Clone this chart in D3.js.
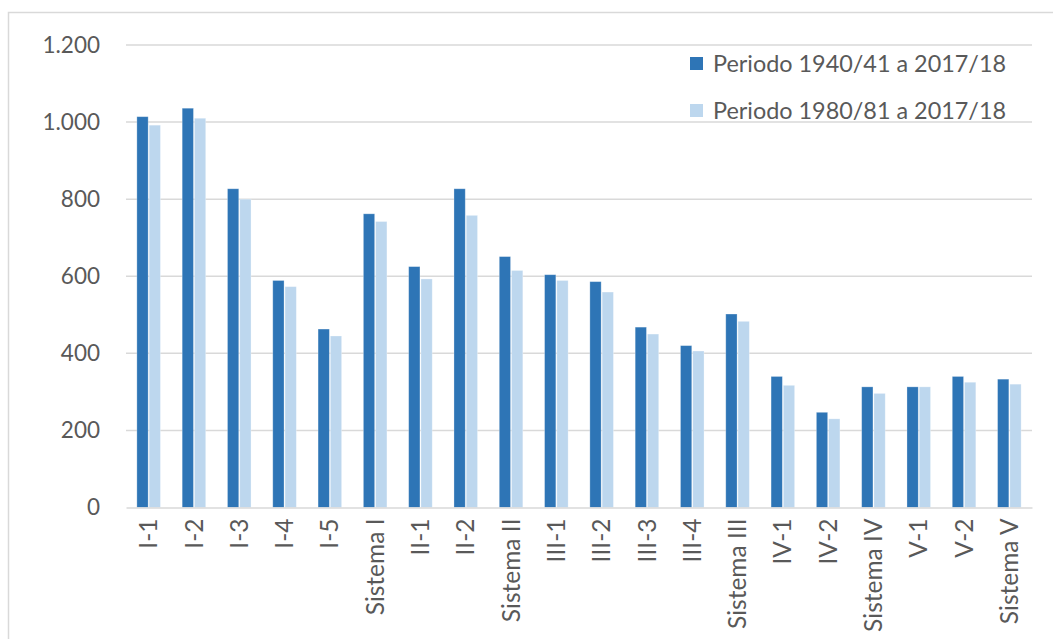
<!DOCTYPE html>
<html><head><meta charset="utf-8">
<script src="https://cdn.jsdelivr.net/npm/d3@7"></script>
<style>
html,body{margin:0;padding:0;background:#fff;overflow:hidden}
text{font-family:Lato,"Open Sans",sans-serif;fill:#595959}
</style></head>
<body>
<svg id="c" width="1053" height="639"></svg>
<script>
const categories = ["I-1","I-2","I-3","I-4","I-5","Sistema I","II-1","II-2","Sistema II","III-1","III-2","III-3","III-4","Sistema III","IV-1","IV-2","Sistema IV","V-1","V-2","Sistema V"];
const seriesNames = ["Periodo 1940/41 a 2017/18","Periodo 1980/81 a 2017/18"];
const period1940 = [1014,1036,827,589,463,762,625,827,651,604,586,468,420,502,340,247,313,313,340,333];
const period1980 = [992,1010,800,573,445,742,593,758,615,589,559,450,406,483,317,230,296,313,325,320];
const yTicks = [0,200,400,600,800,1000,1200];
const colors = ["#2E75B6","#BDD7EE"];

const svg = d3.select("#c");
const mLeft = 126, mRight = 1032, mTop = 45, mBottom = 507.5;

svg.append("rect").attr("x",8.5).attr("y",12.5).attr("width",1060).attr("height",650)
  .attr("fill","none").attr("stroke","#d9d9d9").attr("stroke-width",1.5);

const x0 = d3.scaleBand().domain(categories).range([mLeft,mRight]).paddingInner(0.48).paddingOuter(0.24);
const x1 = d3.scaleBand().domain([0,1]).range([0,x0.bandwidth()]).paddingInner(0.08);
const y = d3.scaleLinear().domain([0,1200]).range([mBottom,mTop]);

const fmt = v => d3.format(",")(v).replace(/,/g,".");

svg.append("g").selectAll("line").data(yTicks.filter(d=>d>0)).join("line")
  .attr("x1",mLeft).attr("x2",mRight).attr("y1",d=>y(d)).attr("y2",d=>y(d))
  .attr("stroke","#d9d9d9").attr("stroke-width",1.5);

const yAxis = svg.append("g").attr("transform",`translate(${mLeft},0)`)
  .call(d3.axisLeft(y).tickValues(yTicks).tickFormat(fmt).tickSize(0).tickPadding(26));
yAxis.select(".domain").remove();
yAxis.selectAll("text").attr("font-size",22.5).style("font-family","Lato,'Open Sans',sans-serif").attr("fill","#595959");

const series = [period1940, period1980];
series.forEach((vals,si)=>{
  svg.append("g").selectAll("rect").data(vals).join("rect")
    .attr("x",(d,i)=>x0(categories[i])+x1(si))
    .attr("width",x1.bandwidth())
    .attr("y",d=>y(d))
    .attr("height",d=>y(0)-y(d))
    .attr("fill",colors[si])
    .attr("stroke","#ffffff").attr("stroke-opacity",0.35).attr("stroke-width",0.8);
});

const xScaleFull = d3.scaleBand().domain(categories).range([mLeft,mRight]);
const xAxis = svg.append("g").attr("transform",`translate(0,${mBottom})`)
  .call(d3.axisBottom(xScaleFull).tickSize(0).tickPadding(0));
xAxis.select(".domain").attr("stroke","#d9d9d9").attr("stroke-width",1.5);
xAxis.selectAll("text")
  .attr("font-size",24.5).style("font-family","Lato,'Open Sans',sans-serif").attr("fill","#595959")
  .attr("transform","rotate(-90)")
  .attr("text-anchor","end").attr("x",-11).attr("y",0).attr("dy","0.35em");

const lg = svg.append("g");
seriesNames.forEach((name,i)=>{
  const yy = 64 + i*47;
  lg.append("rect").attr("x",690).attr("y",yy-7).attr("width",13).attr("height",13).attr("fill",colors[i]);
  lg.append("text").attr("x",713).attr("y",yy).attr("dy","0.35em").attr("font-size",23.4).text(name);
});
</script>
</body></html>
